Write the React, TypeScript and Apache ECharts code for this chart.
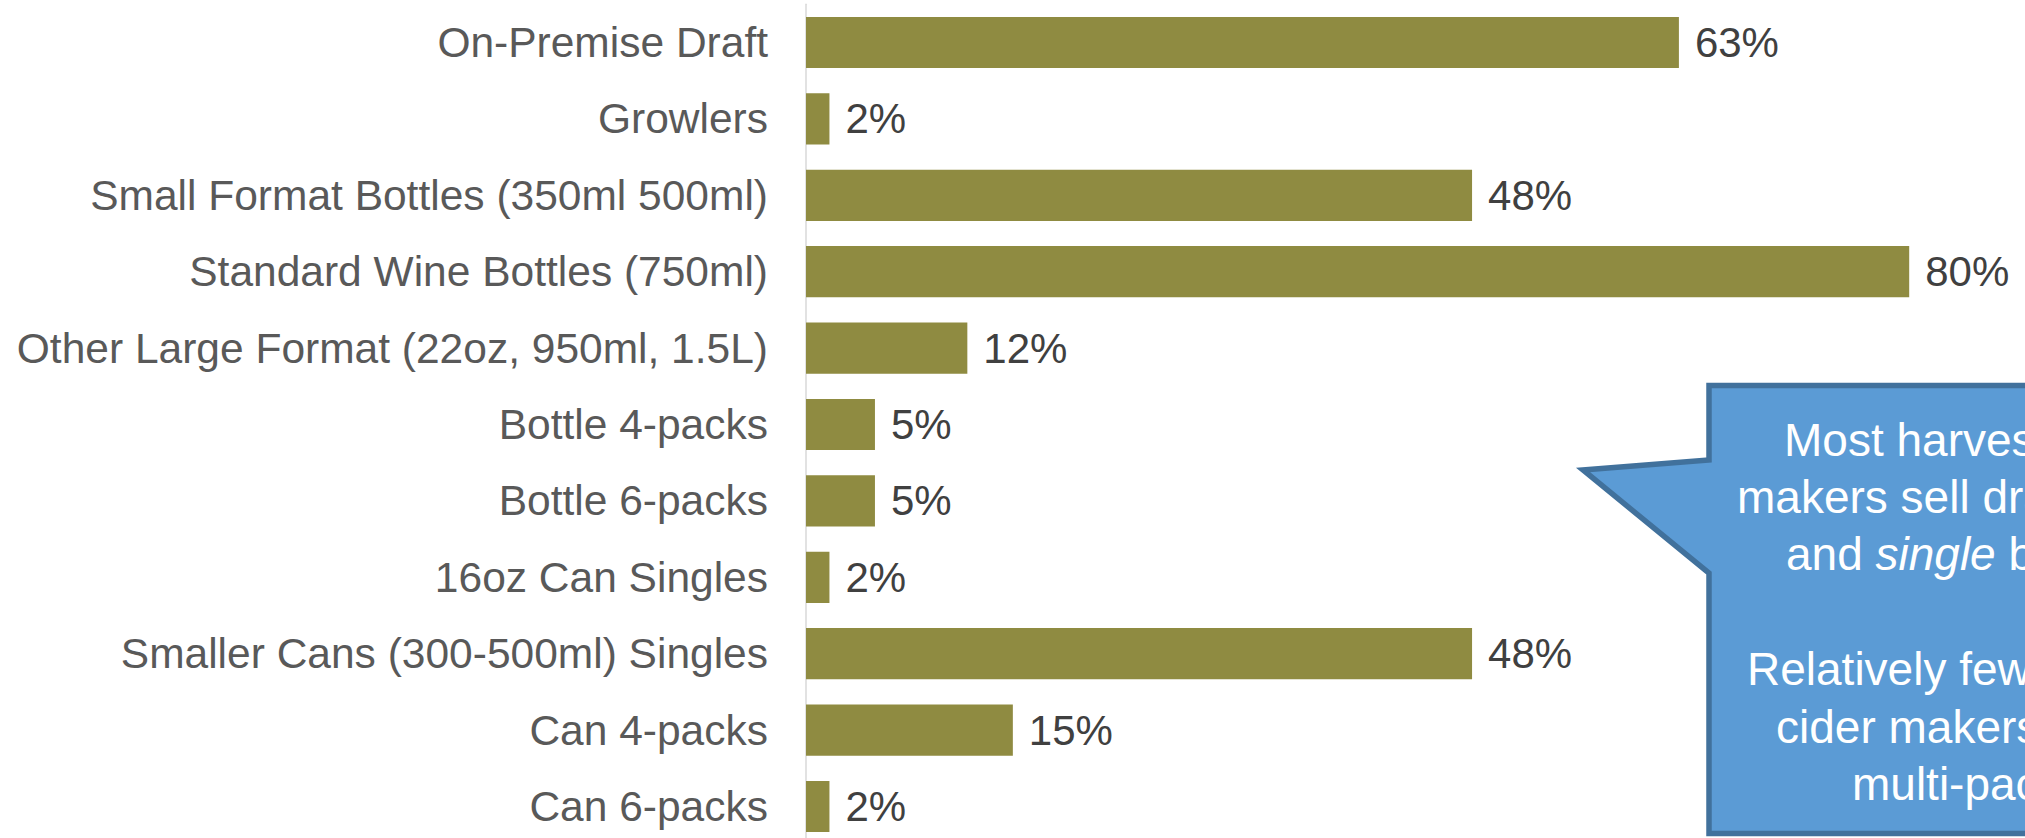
import React, { useEffect, useRef } from "react";
import * as echarts from "echarts";

const categories = [
  "On-Premise Draft",
  "Growlers",
  "Small Format Bottles (350ml 500ml)",
  "Standard Wine Bottles (750ml)",
  "Other Large Format (22oz, 950ml, 1.5L)",
  "Bottle 4-packs",
  "Bottle 6-packs",
  "16oz Can Singles",
  "Smaller Cans (300-500ml) Singles",
  "Can 4-packs",
  "Can 6-packs",
];
const shares = [0.633, 0.017, 0.483, 0.8, 0.117, 0.05, 0.05, 0.017, 0.483, 0.15, 0.017];

const calloutLines = [
  "Most harvest cider",
  "makers sell draft",
  "{n|and }{i|single}{n| bottles}",
  "Relatively few harvest",
  "cider makers sell",
  "multi-packs",
];
const calloutX = [1784, 1737, 1786, 1747, 1776, 1852];
const calloutBaseline = [456, 513, 570, 685, 743, 800];

const FONT = "'Liberation Sans', Arial, sans-serif";

export default function App() {
  const ref = useRef<HTMLDivElement>(null);
  useEffect(() => {
    if (!ref.current) return;
    const chart = echarts.init(ref.current, null, { renderer: "svg" });
    const textEls = calloutLines.map((t, i) => ({
      type: "text",
      z: 20,
      style: {
        text: t,
        x: calloutX[i],
        y: calloutBaseline[i] - 16,
        fill: "#ffffff",
        fontSize: 46,
        fontFamily: FONT,
        textAlign: "left",
        verticalAlign: "middle",
        rich: {
          n: { fontSize: 46, fontFamily: FONT, fill: "#ffffff" },
          i: { fontSize: 46, fontFamily: FONT, fontStyle: "italic", fill: "#ffffff" },
        },
      },
    }));
    chart.setOption({
      animation: false,
      grid: { left: 806, top: 4.3, width: 1379, height: 840.4, containLabel: false },
      xAxis: {
        type: "value",
        min: 0,
        max: 1,
        show: false,
        splitLine: { show: false },
      },
      yAxis: {
        type: "category",
        data: categories,
        inverse: true,
        axisTick: { show: false },
        axisLine: { show: true, lineStyle: { color: "#d9d9d9", width: 1.5 } },
        axisLabel: {
          fontSize: 42.5,
          color: "#595959",
          fontFamily: FONT,
          margin: 38,
        },
      },
      series: [
        {
          type: "bar",
          data: shares,
          barCategoryGap: "33%",
          itemStyle: { color: "#8F8B41" },
          label: {
            show: true,
            position: "right",
            distance: 16,
            fontSize: 42,
            color: "#404040",
            fontFamily: FONT,
            formatter: (p: any) => Math.round(p.value * 100) + "%",
          },
        },
      ],
      graphic: [
        {
          type: "polygon",
          z: 10,
          shape: {
            points: [
              [1709, 385.5],
              [2130, 385.5],
              [2130, 833.5],
              [1709, 833.5],
              [1709, 573],
              [1583, 470],
              [1709, 460],
            ],
          },
          style: { fill: "#5B9BD5", stroke: "#41719C", lineWidth: 5.5, lineJoin: "miter" },
        },
        ...textEls,
      ],
    });
    return () => chart.dispose();
  }, []);
  return (
    <div
      style={{
        position: "fixed",
        left: 0,
        top: 0,
        width: 2025,
        height: 838,
        overflow: "hidden",
        background: "#ffffff",
      }}
    >
      <div ref={ref} style={{ width: 2200, height: 870 }} />
    </div>
  );
}
